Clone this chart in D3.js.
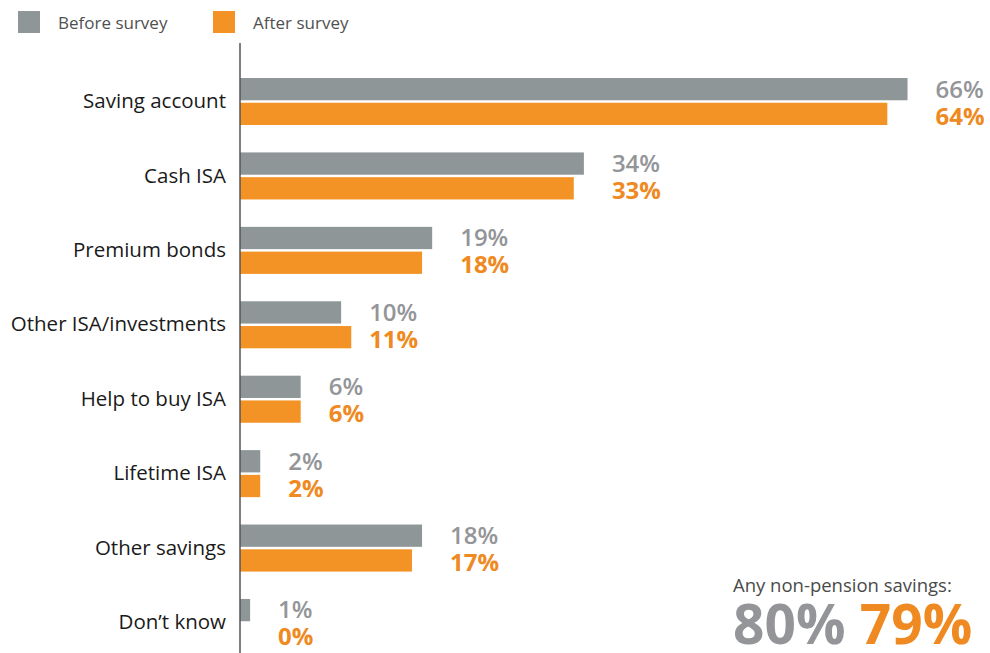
<!DOCTYPE html>
<html>
<head>
<meta charset="utf-8">
<script src="https://cdn.jsdelivr.net/npm/d3@7"></script>
<style>
  html, body { margin: 0; padding: 0; background: #fff; }
  svg { display: block; font-family: "Open Sans", sans-serif; }
</style>
</head>
<body>
<svg id="chart" width="990" height="653"></svg>
<script>
// Savings products held, before and after the survey (percent of respondents)
const categories = ["Saving account", "Cash ISA", "Premium bonds", "Other ISA/investments",
                    "Help to buy ISA", "Lifetime ISA", "Other savings", "Don\u2019t know"];
const beforeValues = [66, 34, 19, 10, 6, 2, 18, 1];
const afterValues  = [64, 33, 18, 11, 6, 2, 17, 0];
const seriesNames  = ["Before survey", "After survey"];
const totalLabel   = "Any non-pension savings:";
const totals       = [80, 79];

const colors = { before: "#8f9698", after: "#f39325" };
const textColors = { before: "#939598", after: "#ef8a22" };

const rows = categories.map((c, i) => ({ category: c, before: beforeValues[i], after: afterValues[i] }));

const svg = d3.select("#chart");

const x = d3.scaleLinear().domain([0, 70]).range([240, 948]);
const y = d3.scaleBand().domain(categories).range([78, 646]).paddingInner(0.368).paddingOuter(0);
const ySeries = d3.scaleBand().domain(["before", "after"]).range([0, y.bandwidth()]).paddingInner(0.1);

// Legend
const legend = svg.append("g");
const legendX = [18, 213];
seriesNames.forEach((name, i) => {
  const key = i === 0 ? "before" : "after";
  const g = legend.append("g").attr("transform", `translate(${legendX[i]},11)`);
  g.append("rect").attr("width", 22).attr("height", 22).attr("fill", colors[key]);
  g.append("text").attr("x", 40).attr("y", 17.5)
    .attr("font-size", 17).attr("fill", "#505050").text(name);
});

// Bars
const groups = svg.append("g").selectAll("g.row").data(rows).join("g")
  .attr("class", "row")
  .attr("transform", d => `translate(0,${y(d.category)})`);

["before", "after"].forEach(key => {
  groups.append("rect")
    .attr("x", x(0))
    .attr("y", ySeries(key))
    .attr("width", d => x(d[key]) - x(0))
    .attr("height", ySeries.bandwidth())
    .attr("fill", colors[key]);
});

// Value labels, stacked to the right of each pair of bars
const mid = y.bandwidth() / 2;
groups.append("text")
  .attr("x", d => x(d.before) + 28)
  .attr("y", mid - 4)
  .attr("font-size", 24).attr("font-weight", 600)
  .attr("fill", textColors.before)
  .text(d => d.before + "%");
groups.append("text")
  .attr("x", d => x(d.before) + 28)
  .attr("y", mid + 23)
  .attr("font-size", 24).attr("font-weight", 700)
  .attr("fill", textColors.after)
  .text(d => d.after + "%");

// Category labels
const yAxis = d3.axisLeft(y).tickSize(0).tickPadding(14);
const axisG = svg.append("g").attr("transform", `translate(${x(0)},0)`).call(yAxis);
axisG.select(".domain").remove();
axisG.selectAll("text")
  .attr("font-size", 20.5).attr("fill", "#1a1a1a")
  .attr("font-family", "'Open Sans', sans-serif");

// Baseline
svg.append("line")
  .attr("x1", x(0)).attr("x2", x(0))
  .attr("y1", 43).attr("y2", 653)
  .attr("stroke", "#555").attr("stroke-width", 1.5);

// Overall total annotation
const note = svg.append("g").attr("transform", "translate(733,0)");
note.append("text").attr("y", 592).attr("font-size", 18.5).attr("fill", "#4a4a4a").text(totalLabel);
const big = note.append("text").attr("y", 644).attr("font-size", 55).attr("font-weight", 700);
big.append("tspan").attr("fill", textColors.before).text(totals[0] + "%");
big.append("tspan").attr("fill", textColors.after).text(" " + totals[1] + "%");
</script>
</body>
</html>
